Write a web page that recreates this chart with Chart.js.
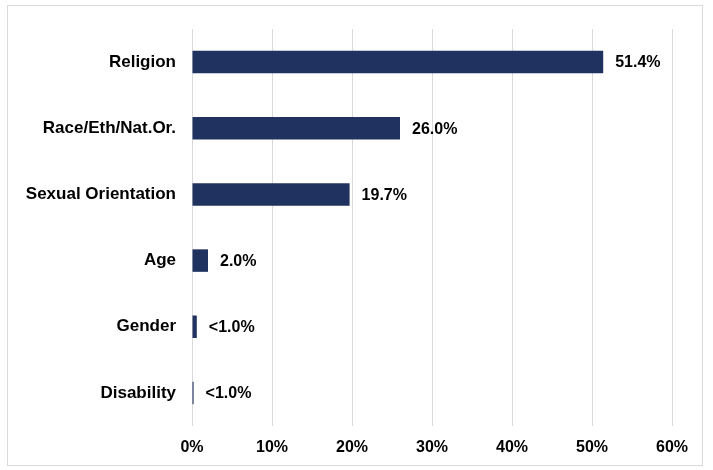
<!DOCTYPE html>
<html>
<head>
<meta charset="utf-8">
<script src="https://cdn.jsdelivr.net/npm/chart.js@4"></script>
<style>
  html, body { margin: 0; padding: 0; background: #fff; }
  #wrap { width: 713px; height: 470px; }
</style>
</head>
<body>
<div id="wrap"><canvas id="chart"></canvas></div>
<script>
// Categories and values
const categories = ["Religion", "Race/Eth/Nat.Or.", "Sexual Orientation", "Age", "Gender", "Disability"];
const shares = [51.4, 26.0, 19.7, 2.0, 0.6, 0.2];
const valueLabels = ["51.4%", "26.0%", "19.7%", "2.0%", "<1.0%", "<1.0%"];
const xTicks = [0, 10, 20, 30, 40, 50, 60];

const barColor = "#203260";
const gridColor = "#d9d9d9";
const fontFamily = "Liberation Sans, Arial, sans-serif";

// Frame around the whole chart
const framePlugin = {
    id: "frame",
    beforeDraw(chart) {
        const ctx = chart.ctx;
        ctx.save();
        ctx.fillStyle = "#fff";
        ctx.fillRect(0, 0, chart.width, chart.height);
        ctx.strokeStyle = gridColor;
        ctx.lineWidth = 1;
        ctx.strokeRect(7.5, 5.5, 695, 460);
        ctx.restore();
    }
};

// Value labels at the end of each bar
const valueLabelPlugin = {
    id: "valueLabels",
    afterDatasetsDraw(chart) {
        const ctx = chart.ctx;
        ctx.save();
        ctx.fillStyle = "#000";
        ctx.font = "bold 16px 'Liberation Sans', Arial, sans-serif";
        ctx.textAlign = "left";
        ctx.textBaseline = "middle";
        chart.getDatasetMeta(0).data.forEach((bar, i) => {
            ctx.fillText(valueLabels[i], bar.x + 12, bar.y + 1);
        });
        ctx.restore();
    }
};

new Chart(document.getElementById("chart"), {
    type: "bar",
    data: {
        labels: categories,
        datasets: [{
            data: shares,
            backgroundColor: barColor,
            categoryPercentage: 1,
            barPercentage: 0.34
        }]
    },
    options: {
        indexAxis: "y",
        responsive: true,
        maintainAspectRatio: false,
        animation: false,
        layout: { padding: { top: 29, right: 41, left: 0, bottom: 0 } },
        plugins: {
            legend: { display: false },
            tooltip: { enabled: false }
        },
        scales: {
            x: {
                min: 0,
                max: 60,
                afterBuildTicks(scale) {
                    scale.ticks = xTicks.map(v => ({ value: v }));
                },
                afterFit(scale) { scale.height = 44; },
                grid: { color: gridColor, drawTicks: false },
                border: { display: false },
                ticks: {
                    color: "#000",
                    font: { family: fontFamily, size: 16, weight: "bold" },
                    padding: 12,
                    callback: v => v + "%"
                }
            },
            y: {
                afterFit(scale) { scale.width = 192; },
                grid: { display: false, drawTicks: false },
                border: { display: false },
                ticks: {
                    color: "#000",
                    font: { family: fontFamily, size: 17, weight: "bold" },
                    padding: 16
                }
            }
        }
    },
    plugins: [framePlugin, valueLabelPlugin]
});
</script>
</body>
</html>
